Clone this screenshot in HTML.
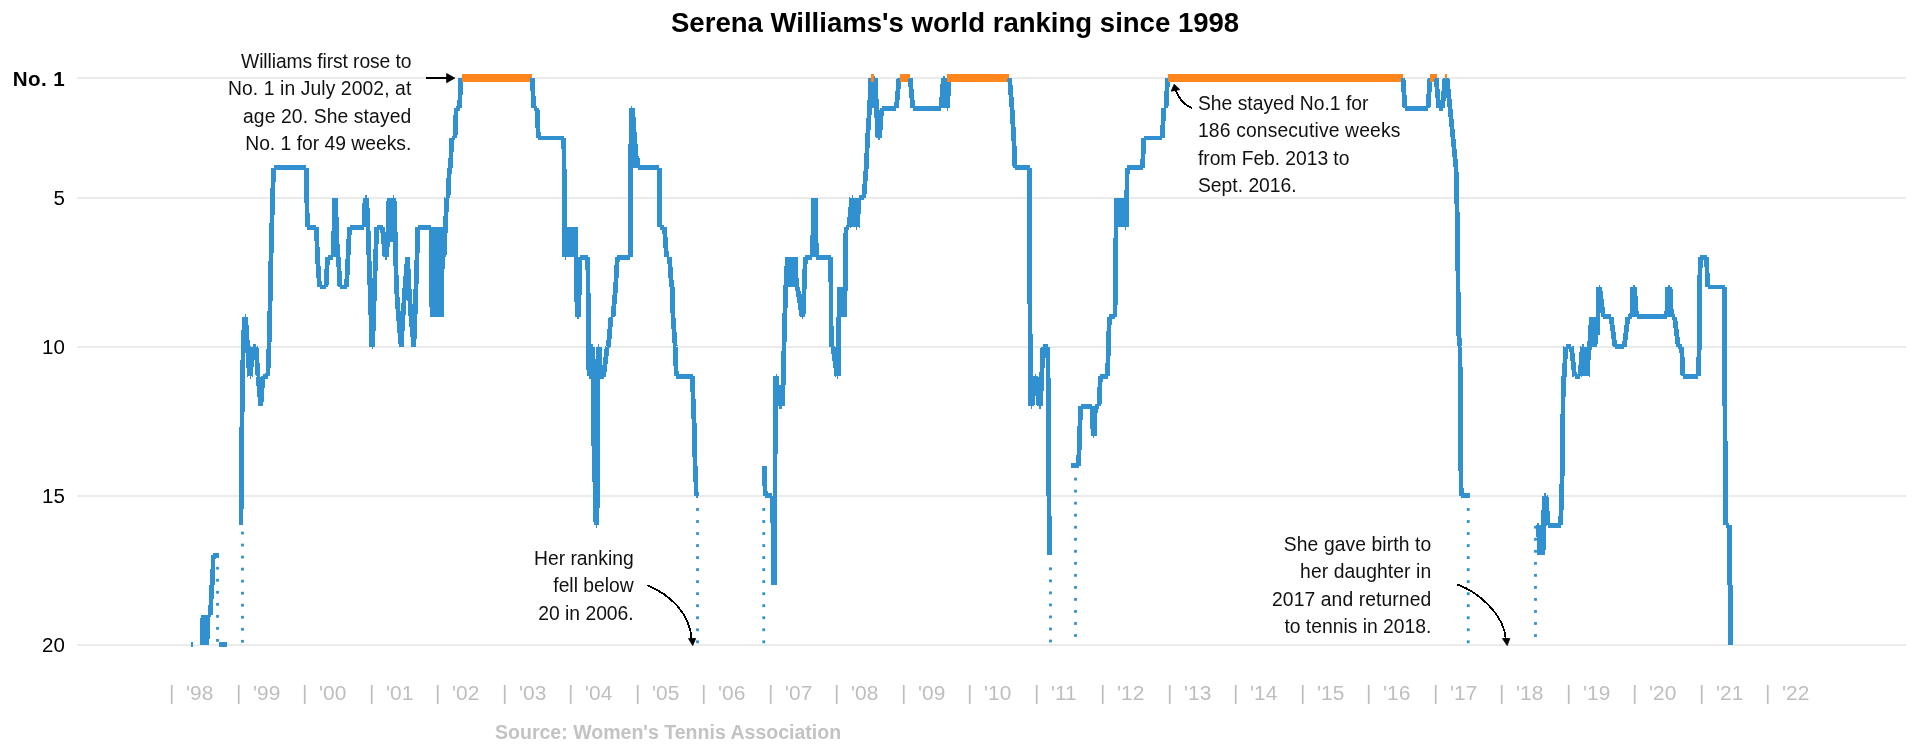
<!DOCTYPE html>
<html><head><meta charset="utf-8"><title>Serena Williams's world ranking since 1998</title>
<style>
html,body{margin:0;padding:0;background:#fff;}
body{width:1920px;height:748px;position:relative;overflow:hidden;font-family:"Liberation Sans",sans-serif;color:#000;}
.b{stroke:#3090d0;stroke-width:4.8;stroke-linejoin:round;}
.o{stroke:#ff861d;stroke-width:7.8;}
.t{position:absolute;white-space:pre;line-height:1;will-change:transform;}
.title{font-weight:bold;font-size:27.55px;left:670.9px;top:8.8px;}
.ylab{font-size:20.5px;width:64.8px;left:0;text-align:right;}
.xl{font-size:20.9px;color:#bebebe;top:683.0px;}
.ann{font-size:19.3px;line-height:27.35px;color:#111;}
.src{font-weight:bold;font-size:19.55px;color:#c3c3c3;left:494.6px;top:722.6px;}
</style></head><body>
<svg width="1920" height="748" viewBox="0 0 1920 748" style="position:absolute;left:0;top:0">
<line x1="77.2" x2="1906" y1="78" y2="78" stroke="#ebebeb" stroke-width="2"/>
<line x1="77.2" x2="1906" y1="198" y2="198" stroke="#ebebeb" stroke-width="2"/>
<line x1="77.2" x2="1906" y1="347" y2="347" stroke="#ebebeb" stroke-width="2"/>
<line x1="77.2" x2="1906" y1="496" y2="496" stroke="#ebebeb" stroke-width="2"/>
<line x1="77.2" x2="1906" y1="645" y2="645" stroke="#ebebeb" stroke-width="2"/>
<rect x="216.10" y="639.00" width="2.8" height="2.8" fill="#3090d0"/>
<rect x="216.10" y="626.97" width="2.8" height="2.8" fill="#3090d0"/>
<rect x="216.10" y="614.94" width="2.8" height="2.8" fill="#3090d0"/>
<rect x="216.10" y="602.91" width="2.8" height="2.8" fill="#3090d0"/>
<rect x="216.10" y="590.88" width="2.8" height="2.8" fill="#3090d0"/>
<rect x="216.10" y="578.85" width="2.8" height="2.8" fill="#3090d0"/>
<rect x="216.10" y="566.82" width="2.8" height="2.8" fill="#3090d0"/>
<rect x="216.10" y="554.79" width="2.8" height="2.8" fill="#3090d0"/>
<rect x="241.10" y="639.90" width="2.8" height="2.8" fill="#3090d0"/>
<rect x="241.10" y="627.87" width="2.8" height="2.8" fill="#3090d0"/>
<rect x="241.10" y="615.84" width="2.8" height="2.8" fill="#3090d0"/>
<rect x="241.10" y="603.81" width="2.8" height="2.8" fill="#3090d0"/>
<rect x="241.10" y="591.78" width="2.8" height="2.8" fill="#3090d0"/>
<rect x="241.10" y="579.75" width="2.8" height="2.8" fill="#3090d0"/>
<rect x="241.10" y="567.72" width="2.8" height="2.8" fill="#3090d0"/>
<rect x="241.10" y="555.69" width="2.8" height="2.8" fill="#3090d0"/>
<rect x="241.10" y="543.66" width="2.8" height="2.8" fill="#3090d0"/>
<rect x="241.10" y="531.63" width="2.8" height="2.8" fill="#3090d0"/>
<rect x="696.10" y="640.40" width="2.8" height="2.8" fill="#3090d0"/>
<rect x="696.10" y="628.37" width="2.8" height="2.8" fill="#3090d0"/>
<rect x="696.10" y="616.34" width="2.8" height="2.8" fill="#3090d0"/>
<rect x="696.10" y="604.31" width="2.8" height="2.8" fill="#3090d0"/>
<rect x="696.10" y="592.28" width="2.8" height="2.8" fill="#3090d0"/>
<rect x="696.10" y="580.25" width="2.8" height="2.8" fill="#3090d0"/>
<rect x="696.10" y="568.22" width="2.8" height="2.8" fill="#3090d0"/>
<rect x="696.10" y="556.19" width="2.8" height="2.8" fill="#3090d0"/>
<rect x="696.10" y="544.16" width="2.8" height="2.8" fill="#3090d0"/>
<rect x="696.10" y="532.13" width="2.8" height="2.8" fill="#3090d0"/>
<rect x="696.10" y="520.10" width="2.8" height="2.8" fill="#3090d0"/>
<rect x="696.10" y="508.07" width="2.8" height="2.8" fill="#3090d0"/>
<rect x="762.35" y="640.40" width="2.8" height="2.8" fill="#3090d0"/>
<rect x="762.35" y="628.37" width="2.8" height="2.8" fill="#3090d0"/>
<rect x="762.35" y="616.34" width="2.8" height="2.8" fill="#3090d0"/>
<rect x="762.35" y="604.31" width="2.8" height="2.8" fill="#3090d0"/>
<rect x="762.35" y="592.28" width="2.8" height="2.8" fill="#3090d0"/>
<rect x="762.35" y="580.25" width="2.8" height="2.8" fill="#3090d0"/>
<rect x="762.35" y="568.22" width="2.8" height="2.8" fill="#3090d0"/>
<rect x="762.35" y="556.19" width="2.8" height="2.8" fill="#3090d0"/>
<rect x="762.35" y="544.16" width="2.8" height="2.8" fill="#3090d0"/>
<rect x="762.35" y="532.13" width="2.8" height="2.8" fill="#3090d0"/>
<rect x="762.35" y="520.10" width="2.8" height="2.8" fill="#3090d0"/>
<rect x="762.35" y="508.07" width="2.8" height="2.8" fill="#3090d0"/>
<rect x="1049.10" y="639.60" width="2.8" height="2.8" fill="#3090d0"/>
<rect x="1049.10" y="627.57" width="2.8" height="2.8" fill="#3090d0"/>
<rect x="1049.10" y="615.54" width="2.8" height="2.8" fill="#3090d0"/>
<rect x="1049.10" y="603.51" width="2.8" height="2.8" fill="#3090d0"/>
<rect x="1049.10" y="591.48" width="2.8" height="2.8" fill="#3090d0"/>
<rect x="1049.10" y="579.45" width="2.8" height="2.8" fill="#3090d0"/>
<rect x="1049.10" y="567.42" width="2.8" height="2.8" fill="#3090d0"/>
<rect x="1074.10" y="634.10" width="2.8" height="2.8" fill="#3090d0"/>
<rect x="1074.10" y="622.07" width="2.8" height="2.8" fill="#3090d0"/>
<rect x="1074.10" y="610.04" width="2.8" height="2.8" fill="#3090d0"/>
<rect x="1074.10" y="598.01" width="2.8" height="2.8" fill="#3090d0"/>
<rect x="1074.10" y="585.98" width="2.8" height="2.8" fill="#3090d0"/>
<rect x="1074.10" y="573.95" width="2.8" height="2.8" fill="#3090d0"/>
<rect x="1074.10" y="561.92" width="2.8" height="2.8" fill="#3090d0"/>
<rect x="1074.10" y="549.89" width="2.8" height="2.8" fill="#3090d0"/>
<rect x="1074.10" y="537.86" width="2.8" height="2.8" fill="#3090d0"/>
<rect x="1074.10" y="525.83" width="2.8" height="2.8" fill="#3090d0"/>
<rect x="1074.10" y="513.80" width="2.8" height="2.8" fill="#3090d0"/>
<rect x="1074.10" y="501.77" width="2.8" height="2.8" fill="#3090d0"/>
<rect x="1074.10" y="489.74" width="2.8" height="2.8" fill="#3090d0"/>
<rect x="1074.10" y="477.71" width="2.8" height="2.8" fill="#3090d0"/>
<rect x="1466.85" y="640.40" width="2.8" height="2.8" fill="#3090d0"/>
<rect x="1466.85" y="628.37" width="2.8" height="2.8" fill="#3090d0"/>
<rect x="1466.85" y="616.34" width="2.8" height="2.8" fill="#3090d0"/>
<rect x="1466.85" y="604.31" width="2.8" height="2.8" fill="#3090d0"/>
<rect x="1466.85" y="592.28" width="2.8" height="2.8" fill="#3090d0"/>
<rect x="1466.85" y="580.25" width="2.8" height="2.8" fill="#3090d0"/>
<rect x="1466.85" y="568.22" width="2.8" height="2.8" fill="#3090d0"/>
<rect x="1466.85" y="556.19" width="2.8" height="2.8" fill="#3090d0"/>
<rect x="1466.85" y="544.16" width="2.8" height="2.8" fill="#3090d0"/>
<rect x="1466.85" y="532.13" width="2.8" height="2.8" fill="#3090d0"/>
<rect x="1466.85" y="520.10" width="2.8" height="2.8" fill="#3090d0"/>
<rect x="1466.85" y="508.07" width="2.8" height="2.8" fill="#3090d0"/>
<rect x="1534.10" y="634.10" width="2.8" height="2.8" fill="#3090d0"/>
<rect x="1534.10" y="622.07" width="2.8" height="2.8" fill="#3090d0"/>
<rect x="1534.10" y="610.04" width="2.8" height="2.8" fill="#3090d0"/>
<rect x="1534.10" y="598.01" width="2.8" height="2.8" fill="#3090d0"/>
<rect x="1534.10" y="585.98" width="2.8" height="2.8" fill="#3090d0"/>
<rect x="1534.10" y="573.95" width="2.8" height="2.8" fill="#3090d0"/>
<rect x="1534.10" y="561.92" width="2.8" height="2.8" fill="#3090d0"/>
<rect x="1534.10" y="549.89" width="2.8" height="2.8" fill="#3090d0"/>
<rect x="1534.10" y="537.86" width="2.8" height="2.8" fill="#3090d0"/>
<rect x="1534.10" y="525.83" width="2.8" height="2.8" fill="#3090d0"/>
<g fill="none" stroke-linecap="butt" shape-rendering="crispEdges">
<path class="b" d="M191.10 644.60 L192.50 644.60"/>
<path class="b" d="M202.20 644.60 L203.00 614.80 M203.00 614.80 L203.80 644.60 M203.80 644.60 L204.60 614.80 M204.60 614.80 L205.40 644.60 M205.40 644.60 L206.20 614.80 M206.20 614.80 L207.00 644.60 M207.00 644.60 L207.60 614.80 M207.60 614.80 L210.60 614.80 M210.60 614.80 L211.60 585.00 M211.60 585.00 L212.60 585.00 M212.60 585.00 L213.20 555.20 M213.20 555.20 L218.60 555.20"/>
<path class="b" d="M219.20 644.60 L226.80 644.60"/>
<path class="b" d="M241.00 525.40 L241.20 495.60 M241.20 495.60 L241.40 465.80 M241.40 465.80 L241.80 436.00 M241.80 436.00 L242.20 406.20 M242.20 406.20 L242.60 376.40 M242.60 376.40 L243.20 346.60 M243.20 346.60 L244.50 316.80 M244.50 316.80 L245.60 316.80 M245.60 316.80 L247.50 346.60 M247.50 346.60 L249.50 376.40 M249.50 376.40 L250.50 376.40 M250.50 376.40 L252.50 346.60 M252.50 346.60 L256.00 346.60 M256.00 346.60 L258.00 376.40 M258.00 376.40 L260.80 406.20 M260.80 406.20 L263.00 376.40 M263.00 376.40 L267.80 376.40 M267.80 376.40 L269.00 346.60 M269.00 346.60 L269.80 316.80 M269.80 316.80 L270.40 287.00 M270.40 287.00 L271.00 257.20 M271.00 257.20 L271.80 227.40 M271.80 227.40 L272.60 197.60 M272.60 197.60 L273.60 167.80 M273.60 167.80 L306.20 167.80 M306.20 167.80 L306.80 197.60 M306.80 197.60 L307.40 227.40 M307.40 227.40 L316.40 227.40 M316.40 227.40 L317.50 257.20 M317.50 257.20 L319.50 287.00 M319.50 287.00 L326.00 287.00 M326.00 287.00 L327.50 257.20 M327.50 257.20 L333.40 257.20 M333.40 257.20 L334.60 197.60 M334.60 197.60 L335.40 197.60 M335.40 197.60 L337.60 257.20 M337.60 257.20 L338.40 257.20 M338.40 257.20 L340.00 287.00 M340.00 287.00 L346.50 287.00 M346.50 287.00 L348.00 257.20 M348.00 257.20 L349.50 227.40 M349.50 227.40 L363.80 227.40 M363.80 227.40 L365.20 197.60 M365.20 197.60 L366.60 197.60 M366.60 197.60 L368.00 227.40 M368.00 227.40 L369.00 257.20 M369.00 257.20 L370.00 287.00 M370.00 287.00 L371.00 316.80 M371.00 316.80 L371.80 346.60 M371.80 346.60 L372.60 346.60 M372.60 346.60 L373.60 316.80 M373.60 316.80 L374.60 287.00 M374.60 287.00 L375.60 257.20 M375.60 257.20 L376.80 227.40 M376.80 227.40 L382.50 227.40 M382.50 227.40 L385.00 257.20 M385.00 257.20 L386.50 257.20 M386.50 257.20 L388.20 227.40 M388.20 227.40 L389.00 197.60 M389.00 197.60 L389.70 242.30 M389.70 242.30 L390.40 197.60 M390.40 197.60 L391.10 242.30 M391.10 242.30 L391.80 197.60 M391.80 197.60 L392.50 242.30 M392.50 242.30 L393.20 197.60 M393.20 197.60 L394.00 197.60 M394.00 197.60 L395.00 227.40 M395.00 227.40 L396.40 287.00 M396.40 287.00 L398.50 316.80 M398.50 316.80 L401.20 346.60 M401.20 346.60 L403.00 316.80 M403.00 316.80 L405.00 287.00 M405.00 287.00 L407.50 257.20 M407.50 257.20 L409.00 287.00 M409.00 287.00 L411.00 316.80 M411.00 316.80 L413.80 346.60 M413.80 346.60 L415.00 316.80 M415.00 316.80 L416.00 287.00 M416.00 287.00 L417.00 257.20 M417.00 257.20 L417.80 227.40 M417.80 227.40 L431.20 227.40 M431.20 227.40 L432.00 316.80 M432.00 316.80 L432.80 227.40 M432.80 227.40 L433.60 316.80 M433.60 316.80 L434.40 227.40 M434.40 227.40 L435.20 316.80 M435.20 316.80 L436.00 227.40 M436.00 227.40 L436.80 316.80 M436.80 316.80 L437.60 227.40 M437.60 227.40 L438.40 316.80 M438.40 316.80 L439.20 227.40 M439.20 227.40 L440.00 316.80 M440.00 316.80 L440.80 227.40 M440.80 227.40 L441.60 316.80 M441.60 316.80 L442.40 242.30 M442.40 242.30 L443.20 257.20 M443.20 257.20 L444.00 257.20 M444.00 257.20 L445.40 227.40 M445.40 227.40 L446.80 197.60 M446.80 197.60 L448.00 197.60 M448.00 197.60 L449.40 167.80 M449.40 167.80 L450.60 167.80 M450.60 167.80 L451.60 138.00 M451.60 138.00 L455.00 138.00 M455.00 138.00 L456.20 108.20 M456.20 108.20 L459.60 108.20 M459.60 108.20 L460.80 78.40"/>
<path class="o" d="M462.00 78 L531.70 78"/>
<path class="b" d="M532.40 78.40 L533.60 108.20 M533.60 108.20 L537.00 108.20 M537.00 108.20 L538.40 138.00 M538.40 138.00 L563.80 138.00 M563.80 138.00 L564.40 197.60 M564.40 197.60 L564.80 257.20 M564.80 257.20 L566.20 257.20 M566.20 257.20 L567.20 227.40 M567.20 227.40 L568.20 257.20 M568.20 257.20 L569.20 227.40 M569.20 227.40 L570.20 257.20 M570.20 257.20 L571.20 227.40 M571.20 227.40 L572.20 257.20 M572.20 257.20 L573.20 227.40 M573.20 227.40 L574.20 257.20 M574.20 257.20 L575.20 227.40 M575.20 227.40 L576.00 257.20 M576.00 257.20 L577.20 316.80 M577.20 316.80 L578.60 316.80 M578.60 316.80 L580.00 257.20 M580.00 257.20 L587.80 257.20 M587.80 257.20 L588.60 346.60 M588.60 346.60 L589.00 376.40 M589.00 376.40 L590.60 376.40 M590.60 376.40 L591.40 346.60 M591.40 346.60 L592.80 346.60 M592.80 346.60 L593.20 391.30 M593.20 391.30 L593.60 436.00 M593.60 436.00 L594.60 465.80 M594.60 465.80 L595.20 495.60 M595.20 495.60 L596.00 525.40 M596.00 525.40 L597.00 525.40 M597.00 525.40 L597.40 465.80 M597.40 465.80 L597.60 406.20 M597.60 406.20 L598.00 346.60 M598.00 346.60 L599.40 346.60 M599.40 346.60 L600.20 376.40 M600.20 376.40 L603.50 376.40 M603.50 376.40 L607.20 346.60 M607.20 346.60 L608.40 346.60 M608.40 346.60 L611.00 316.80 M611.00 316.80 L613.00 316.80 M613.00 316.80 L615.60 287.00 M615.60 287.00 L617.40 257.20 M617.40 257.20 L630.20 257.20 M630.20 257.20 L630.60 167.80 M630.60 167.80 L631.40 108.20 M631.40 108.20 L632.20 108.20 M632.20 108.20 L632.80 152.90 M632.80 152.90 L633.40 117.14 M633.40 117.14 L634.00 167.80 M634.00 167.80 L634.60 132.04 M634.60 132.04 L635.20 167.80 M635.20 167.80 L635.80 143.96 M635.80 143.96 L636.40 167.80 M636.40 167.80 L637.00 155.88 M637.00 155.88 L637.60 167.80 M637.60 167.80 L659.20 167.80 M659.20 167.80 L659.80 227.40 M659.80 227.40 L664.40 227.40 M664.40 227.40 L666.60 257.20 M666.60 257.20 L669.40 257.20 M669.40 257.20 L671.60 287.00 M671.60 287.00 L672.40 287.00 M672.40 287.00 L673.00 316.80 M673.00 316.80 L675.20 346.60 M675.20 346.60 L676.30 376.40 M676.30 376.40 L692.50 376.40 M692.50 376.40 L693.30 406.20 M693.30 406.20 L694.70 436.00 M694.70 436.00 L695.00 465.80 M695.00 465.80 L695.60 465.80 M695.60 465.80 L696.20 495.60 M696.20 495.60 L697.50 495.60"/>
<path class="b" d="M764.10 465.80 L765.30 495.60 M765.30 495.60 L772.00 495.60 M772.00 495.60 L773.00 525.40 M773.00 525.40 L773.40 555.20 M773.40 555.20 L773.80 585.00 M773.80 585.00 L774.40 585.00 M774.40 585.00 L774.80 525.40 M774.80 525.40 L775.20 436.00 M775.20 436.00 L775.60 376.40 M775.60 376.40 L776.60 376.40 M776.60 376.40 L777.40 406.20 M777.40 406.20 L778.40 385.34 M778.40 385.34 L779.40 406.20 M779.40 406.20 L782.40 406.20 M782.40 406.20 L783.40 376.40 M783.40 376.40 L784.00 346.60 M784.00 346.60 L784.80 316.80 M784.80 316.80 L785.80 287.00 M785.80 287.00 L787.40 257.20 M787.40 257.20 L788.40 287.00 M788.40 287.00 L789.40 257.20 M789.40 257.20 L790.40 287.00 M790.40 287.00 L791.40 257.20 M791.40 257.20 L792.40 287.00 M792.40 287.00 L793.40 257.20 M793.40 257.20 L794.40 287.00 M794.40 287.00 L795.40 257.20 M795.40 257.20 L796.40 287.00 M796.40 287.00 L797.40 287.00 M797.40 287.00 L802.00 316.80 M802.00 316.80 L803.00 316.80 M803.00 316.80 L805.40 257.20 M805.40 257.20 L812.00 257.20 M812.00 257.20 L813.00 233.36 M813.00 233.36 L813.80 197.60 M813.80 197.60 L814.60 251.24 M814.60 251.24 L815.20 197.60 M815.20 197.60 L816.40 257.20 M816.40 257.20 L830.80 257.20 M830.80 257.20 L831.20 346.60 M831.20 346.60 L833.00 346.60 M833.00 346.60 L837.00 376.40 M837.00 376.40 L838.40 376.40 M838.40 376.40 L838.90 316.80 M838.90 316.80 L839.60 287.00 M839.60 287.00 L840.60 316.80 M840.60 316.80 L841.60 287.00 M841.60 287.00 L842.60 316.80 M842.60 316.80 L843.60 287.00 M843.60 287.00 L844.60 316.80 M844.60 316.80 L845.20 287.00 M845.20 287.00 L845.60 257.20 M845.60 257.20 L846.00 227.40 M846.00 227.40 L848.80 227.40 M848.80 227.40 L850.50 212.50 M850.50 212.50 L851.60 197.60 M851.60 197.60 L852.60 197.60 M852.60 197.60 L853.40 227.40 M853.40 227.40 L854.20 197.60 M854.20 197.60 L855.00 227.40 M855.00 227.40 L855.80 203.56 M855.80 203.56 L856.40 227.40 M856.40 227.40 L857.40 227.40 M857.40 227.40 L859.00 197.60 M859.00 197.60 L863.80 197.60 M863.80 197.60 L866.20 167.80 M866.20 167.80 L867.60 138.00 M867.60 138.00 L869.60 108.20 M869.60 108.20 L870.80 78.40 M870.80 78.40 L871.80 78.40 M871.80 78.40 L873.00 108.20 M873.00 108.20 L874.20 78.40 M874.20 78.40 L875.40 78.40 M875.40 78.40 L876.40 108.20 M876.40 108.20 L878.00 138.00 M878.00 138.00 L879.60 138.00 M879.60 138.00 L881.20 114.16 M881.20 114.16 L882.40 108.20 M882.40 108.20 L896.40 108.20 M896.40 108.20 L899.00 78.40"/>
<path class="o" d="M871.00 78 L874.00 78"/>
<path class="o" d="M899.50 78 L909.50 78"/>
<path class="b" d="M910.20 78.40 L912.80 108.20 M912.80 108.20 L941.00 108.20 M941.00 108.20 L943.40 78.40 M943.40 78.40 L944.60 78.40 M944.60 78.40 L945.40 108.20 M945.40 108.20 L946.20 84.36 M946.20 84.36 L947.00 108.20 M947.00 108.20 L947.80 108.20 M947.80 108.20 L948.60 78.40"/>
<path class="o" d="M947.00 78 L1008.75 78"/>
<path class="b" d="M1009.60 78.40 L1012.00 108.20 M1012.00 108.20 L1013.80 138.00 M1013.80 138.00 L1015.00 167.80 M1015.00 167.80 L1029.60 167.80 M1029.60 167.80 L1029.80 287.00 M1029.80 287.00 L1030.60 406.20 M1030.60 406.20 L1032.00 406.20 M1032.00 406.20 L1035.00 376.40 M1035.00 376.40 L1036.00 376.40 M1036.00 376.40 L1039.00 406.20 M1039.00 406.20 L1040.50 406.20 M1040.50 406.20 L1043.00 346.60 M1043.00 346.60 L1047.80 346.60 M1047.80 346.60 L1048.40 406.20 M1048.40 406.20 L1048.90 495.60 M1048.90 495.60 L1049.50 555.20"/>
<path class="b" d="M1071.20 465.80 L1078.50 465.80 M1078.50 465.80 L1079.20 447.92 M1079.20 447.92 L1080.00 424.08 M1080.00 424.08 L1080.50 406.20 M1080.50 406.20 L1092.00 406.20 M1092.00 406.20 L1093.20 436.00 M1093.20 436.00 L1094.20 436.00 M1094.20 436.00 L1095.40 406.20 M1095.40 406.20 L1099.00 406.20 M1099.00 406.20 L1100.40 376.40 M1100.40 376.40 L1107.50 376.40 M1107.50 376.40 L1108.40 346.60 M1108.40 346.60 L1109.40 316.80 M1109.40 316.80 L1115.00 316.80 M1115.00 316.80 L1115.60 257.20 M1115.60 257.20 L1116.60 197.60 M1116.60 197.60 L1117.80 227.40 M1117.80 227.40 L1119.00 197.60 M1119.00 197.60 L1120.20 227.40 M1120.20 227.40 L1121.40 197.60 M1121.40 197.60 L1122.60 227.40 M1122.60 227.40 L1123.80 203.56 M1123.80 203.56 L1125.00 227.40 M1125.00 227.40 L1126.40 227.40 M1126.40 227.40 L1127.20 167.80 M1127.20 167.80 L1142.60 167.80 M1142.60 167.80 L1143.70 138.00 M1143.70 138.00 L1162.20 138.00 M1162.20 138.00 L1163.80 108.20 M1163.80 108.20 L1166.00 108.20 M1166.00 108.20 L1167.60 78.40"/>
<path class="o" d="M1168.00 78 L1403.00 78"/>
<path class="b" d="M1403.00 78.40 L1405.00 108.20 M1405.00 108.20 L1428.00 108.20 M1428.00 108.20 L1430.00 78.40"/>
<path class="o" d="M1429.50 78 L1436.50 78"/>
<path class="b" d="M1436.25 78.40 L1438.75 108.20 M1438.75 108.20 L1442.50 108.20 M1442.50 108.20 L1445.00 78.40"/>
<path class="o" d="M1445.00 78 L1447.00 78"/>
<path class="b" d="M1447.00 78.40 L1450.00 108.20 M1450.00 108.20 L1453.00 138.00 M1453.00 138.00 L1456.00 167.80 M1456.00 167.80 L1457.50 227.40 M1457.50 227.40 L1458.50 331.70 M1458.50 331.70 L1460.00 346.60 M1460.00 346.60 L1460.50 436.00 M1460.50 436.00 L1461.20 495.60 M1461.20 495.60 L1469.50 495.60"/>
<path class="b" d="M1536.80 525.40 L1538.60 525.40 M1538.60 525.40 L1539.40 555.20 M1539.40 555.20 L1540.30 525.40 M1540.30 525.40 L1541.20 555.20 M1541.20 555.20 L1542.10 534.34 M1542.10 534.34 L1543.00 555.20 M1543.00 555.20 L1544.20 495.60 M1544.20 495.60 L1546.00 495.60 M1546.00 495.60 L1548.20 525.40 M1548.20 525.40 L1560.60 525.40 M1560.60 525.40 L1561.60 495.60 M1561.60 495.60 L1562.40 465.80 M1562.40 465.80 L1563.00 406.20 M1563.00 406.20 L1563.40 376.40 M1563.40 376.40 L1564.20 376.40 M1564.20 376.40 L1565.80 346.60 M1565.80 346.60 L1571.40 346.60 M1571.40 346.60 L1574.60 376.40 M1574.60 376.40 L1580.00 376.40 M1580.00 376.40 L1582.40 346.60 M1582.40 346.60 L1583.60 346.60 M1583.60 346.60 L1584.80 376.40 M1584.80 376.40 L1586.00 346.60 M1586.00 346.60 L1587.20 376.40 M1587.20 376.40 L1588.40 355.54 M1588.40 355.54 L1589.60 346.60 M1589.60 346.60 L1591.40 316.80 M1591.40 316.80 L1592.60 346.60 M1592.60 346.60 L1593.80 316.80 M1593.80 316.80 L1595.00 346.60 M1595.00 346.60 L1596.20 316.80 M1596.20 316.80 L1597.40 334.68 M1597.40 334.68 L1598.80 287.00 M1598.80 287.00 L1599.60 287.00 M1599.60 287.00 L1603.40 316.80 M1603.40 316.80 L1611.00 316.80 M1611.00 316.80 L1615.00 346.60 M1615.00 346.60 L1624.20 346.60 M1624.20 346.60 L1628.00 316.80 M1628.00 316.80 L1631.80 316.80 M1631.80 316.80 L1632.80 287.00 M1632.80 287.00 L1634.50 287.00 M1634.50 287.00 L1636.50 316.80 M1636.50 316.80 L1666.70 316.80 M1666.70 316.80 L1667.80 287.00 M1667.80 287.00 L1670.00 287.00 M1670.00 287.00 L1671.50 316.80 M1671.50 316.80 L1674.60 316.80 M1674.60 316.80 L1678.30 346.60 M1678.30 346.60 L1681.60 346.60 M1681.60 346.60 L1683.00 376.40 M1683.00 376.40 L1698.40 376.40 M1698.40 376.40 L1699.20 346.60 M1699.20 346.60 L1699.60 287.00 M1699.60 287.00 L1700.40 257.20 M1700.40 257.20 L1706.60 257.20 M1706.60 257.20 L1707.60 287.00 M1707.60 287.00 L1724.70 287.00 M1724.70 287.00 L1724.90 406.20 M1724.90 406.20 L1725.60 525.40 M1725.60 525.40 L1729.40 525.40 M1729.40 525.40 L1729.60 585.00 M1729.60 585.00 L1730.40 585.00 M1730.40 585.00 L1730.60 644.60"/>
</g>
<g fill="none" stroke="#000" stroke-width="1.8" stroke-linecap="round" shape-rendering="crispEdges">
<path d="M426.4 78.1 L448 78.1"/>
<path d="M1191.5 107.7 Q1180 103 1175.8 90"/>
<path d="M648.3 585.7 C668 594 690 612 691.6 639"/>
<path d="M1457.6 584.6 C1478 592 1504 614 1505.8 639"/>
</g>
<g fill="#000" stroke="#000" stroke-width="0.8" stroke-linejoin="round">
<path d="M454.8 78.1 L446.6 73.5 L446.6 82.7 Z"/>
<path d="M1174.2 84.2 L1171.2 91.2 L1179.8 89.6 Z"/>
<path d="M692.7 645.6 L688.5 638.5 L695.7 638.5 Z"/>
<path d="M1507.2 645.6 L1502.4 638.5 L1509.8 638.5 Z"/>
</g>
</svg>
<div class="t title">Serena Williams's world ranking since 1998</div>
<div class="t ylab" style="top:69.0px;font-weight:bold;font-size:20.6px;letter-spacing:0.4px;width:65px">No. 1</div>
<div class="t ylab" style="top:188.2px">5</div>
<div class="t ylab" style="top:337.2px">10</div>
<div class="t ylab" style="top:486.2px">15</div>
<div class="t ylab" style="top:635.2px">20</div>
<div class="t xl" style="left:169.05px">|  &#39;98</div>
<div class="t xl" style="left:235.55px">|  &#39;99</div>
<div class="t xl" style="left:302.05px">|  &#39;00</div>
<div class="t xl" style="left:368.55px">|  &#39;01</div>
<div class="t xl" style="left:435.05px">|  &#39;02</div>
<div class="t xl" style="left:501.55px">|  &#39;03</div>
<div class="t xl" style="left:568.05px">|  &#39;04</div>
<div class="t xl" style="left:634.55px">|  &#39;05</div>
<div class="t xl" style="left:701.05px">|  &#39;06</div>
<div class="t xl" style="left:767.55px">|  &#39;07</div>
<div class="t xl" style="left:834.05px">|  &#39;08</div>
<div class="t xl" style="left:900.55px">|  &#39;09</div>
<div class="t xl" style="left:967.05px">|  &#39;10</div>
<div class="t xl" style="left:1033.55px">|  &#39;11</div>
<div class="t xl" style="left:1100.05px">|  &#39;12</div>
<div class="t xl" style="left:1166.55px">|  &#39;13</div>
<div class="t xl" style="left:1233.05px">|  &#39;14</div>
<div class="t xl" style="left:1299.55px">|  &#39;15</div>
<div class="t xl" style="left:1366.05px">|  &#39;16</div>
<div class="t xl" style="left:1432.55px">|  &#39;17</div>
<div class="t xl" style="left:1499.05px">|  &#39;18</div>
<div class="t xl" style="left:1565.55px">|  &#39;19</div>
<div class="t xl" style="left:1632.05px">|  &#39;20</div>
<div class="t xl" style="left:1698.55px">|  &#39;21</div>
<div class="t xl" style="left:1765.05px">|  &#39;22</div>
<div class="t ann" style="right:1508.8px;top:47.5px;text-align:right"><span style="letter-spacing:-0.1px">Williams first rose to</span>
<span style="letter-spacing:0.1px">No. 1 in July 2002, at</span>
<span style="letter-spacing:0.12px">age 20. She stayed</span>
No. 1 for 49 weeks.</div>
<div class="t ann" style="left:1197.5px;top:89.8px">She stayed No.1 for
<span style="letter-spacing:0.15px">186 consecutive weeks</span>
<span style="letter-spacing:-0.05px">from Feb. 2013 to</span>
Sept. 2016.</div>
<div class="t ann" style="right:1286.5px;top:544.5px;text-align:right">Her ranking
fell below
20 in 2006.</div>
<div class="t ann" style="right:489.0px;top:530.5px;text-align:right"><span style="letter-spacing:0.1px">She gave birth to</span>
<span style="letter-spacing:0.1px">her daughter in</span>
<span style="letter-spacing:0.1px">2017 and returned</span>
to tennis in 2018.</div>
<div class="t src">Source: Women's Tennis Association</div>
</body></html>
